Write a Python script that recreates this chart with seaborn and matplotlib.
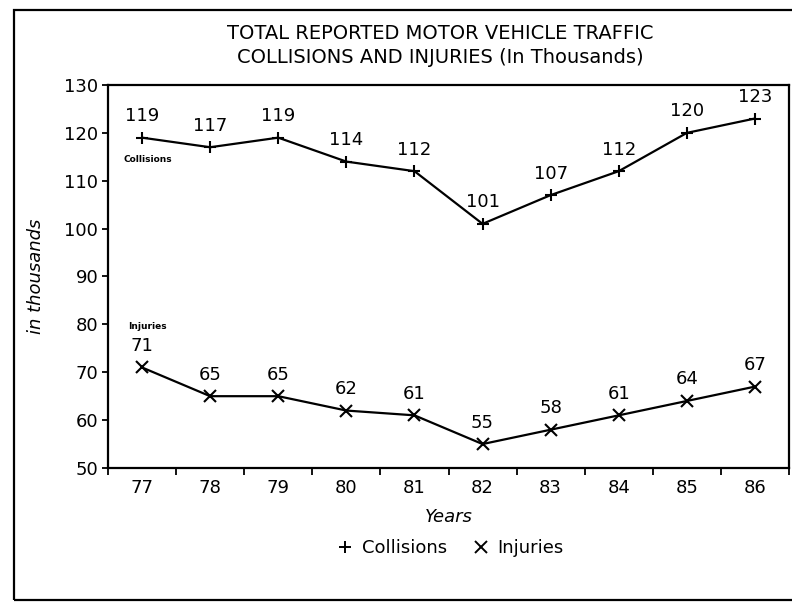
import numpy as np
import pandas as pd
import matplotlib
matplotlib.use("Agg")
import matplotlib.pyplot as plt
from matplotlib.lines import Line2D
from matplotlib.patches import Rectangle
import seaborn as sns

# ── data ─────────────────────────────────────
YEARS      = [77, 78, 79, 80, 81, 82, 83, 84, 85, 86]
COLLISIONS = [119, 117, 119, 114, 112, 101, 107, 112, 120, 123]
INJURIES   = [71, 65, 65, 62, 61, 55, 58, 61, 64, 67]
SERIES     = ["Collisions", "Injuries"]
Y_TICKS    = [50, 60, 70, 80, 90, 100, 110, 120, 130]

sns.set_style("white", {"xtick.bottom": True, "ytick.left": True})
plt.rcParams["font.family"] = ["DejaVu Sans"]
plt.rcParams.update({"text.color": "black", "axes.labelcolor": "black",
                     "xtick.color": "black", "ytick.color": "black"})

df = pd.DataFrame({
    "year": YEARS * 2,
    "value": COLLISIONS + INJURIES,
    "series": [SERIES[0]] * len(YEARS) + [SERIES[1]] * len(YEARS),
})

fig = plt.figure(figsize=(7.92, 6.04), dpi=100)
ax = fig.add_axes([108 / 792, 1 - 468 / 604, 681 / 792, 383 / 604])

sns.lineplot(data=df, x="year", y="value", style="series",
             markers={"Collisions": "+", "Injuries": "x"}, dashes=False,
             color="black", linewidth=1.6, markersize=9, markeredgewidth=1.5,
             markeredgecolor="black", legend=False, ax=ax)

ax.set_xlim(YEARS[0] - 0.5, YEARS[-1] + 0.5)
ax.set_ylim(50, 130)
ax.set_yticks(Y_TICKS)
ax.set_xticks(YEARS)
# ticks sit on the category boundaries, incl. both ends
ax.set_xticks([y - 0.5 for y in YEARS] + [YEARS[-1] + 0.5], minor=True)
ax.tick_params(axis="x", which="major", length=0, labelsize=13, pad=8)
ax.tick_params(axis="x", which="minor", bottom=True, length=5, width=1.3, direction="out")
ax.tick_params(axis="y", left=True, length=4, width=1.3, labelsize=13, pad=3)
for s in ax.spines.values():
    s.set_linewidth(1.6)
    s.set_color("black")

ax.set_xlabel("Years", fontstyle="italic", fontsize=13, labelpad=8)
ax.set_ylabel("in thousands", fontstyle="italic", fontsize=13, labelpad=14)

# value labels
for x, v in zip(YEARS, COLLISIONS):
    ax.annotate(f"{v}", (x, v), xytext=(0, 9), textcoords="offset points",
                ha="center", va="bottom", fontsize=13)
for x, v in zip(YEARS, INJURIES):
    ax.annotate(f"{v}", (x, v), xytext=(0, 9), textcoords="offset points",
                ha="center", va="bottom", fontsize=13)

# small series tags
ax.text(YEARS[0] - 0.27, 114.0, "Collisions", fontsize=6.5, fontweight="bold")
ax.text(YEARS[0] - 0.2, 79, "Injuries", fontsize=6.5, fontweight="bold")

fig.suptitle("TOTAL REPORTED MOTOR VEHICLE TRAFFIC\nCOLLISIONS AND INJURIES (In Thousands)",
             x=440 / 792, y=1 - 24 / 604, fontsize=14, linespacing=1.35, va="top")

handles = [Line2D([], [], color="black", marker="+", linestyle="none",
                  markersize=9, markeredgewidth=1.4),
           Line2D([], [], color="black", marker="x", linestyle="none",
                  markersize=8, markeredgewidth=1.4)]
fig.legend(handles, SERIES, loc="center", bbox_to_anchor=(450 / 792, 1 - 548 / 604),
           ncol=2, frameon=False, fontsize=13, handletextpad=0.4, columnspacing=1.4,
           handlelength=1.0)

# outer frame
fig.patches.append(Rectangle((14 / 792, 4 / 604), 1.0, 590 / 604, transform=fig.transFigure,
                             fill=False, edgecolor="black", linewidth=1.6))

fig.savefig("out.png", dpi=100)
